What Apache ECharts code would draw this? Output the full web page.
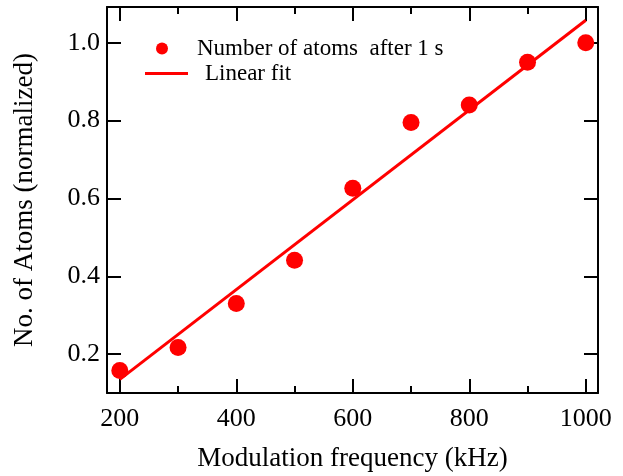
<!DOCTYPE html>
<html>
<head>
<meta charset="utf-8">
<script src="https://cdn.jsdelivr.net/npm/echarts@6/dist/echarts.min.js"></script>
<style>
  html, body { margin: 0; padding: 0; background: #fff; }
  #chart { width: 623px; height: 476px; }
</style>
</head>
<body>
<div id="chart"></div>
<script>
// modulation frequency (kHz) and normalized atom number
const freqs = [200, 300, 400, 500, 600, 700, 800, 900, 1000];
const atoms = [0.158, 0.217, 0.330, 0.441, 0.626, 0.795, 0.840, 0.950, 1.0];
// linear fit end points
const fitX = [200, 1000];
const fitY = [0.135, 1.058];

const xMajor = [200, 400, 600, 800, 1000];
const xMinor = [300, 500, 700, 900];
const yMajor = [0.2, 0.4, 0.6, 0.8, 1.0];

const FONT = '"Liberation Serif", "Times New Roman", serif';
const X_MIN = 178, X_MAX = 1021;
const Y_MIN = 0.1, Y_MAX = 1.092;

const myChart = echarts.init(document.getElementById('chart'));

function xAxisCfg(pos, ticks, len, show) {
  return {
    type: 'value',
    position: pos,
    min: X_MIN,
    max: X_MAX,
    axisLine: { show: show, lineStyle: { color: '#000', width: 2 } },
    axisTick: {
      show: true,
      inside: true,
      length: len,
      customValues: ticks,
      lineStyle: { color: '#000', width: 2 },
    },
    axisLabel: { show: false },
    splitLine: { show: false },
  };
}

const xAxes = [
  Object.assign(xAxisCfg('bottom', xMajor, 14, true), {
    name: 'Modulation frequency (kHz)',
    nameLocation: 'middle',
    nameGap: 52,
    nameTextStyle: { fontFamily: FONT, fontSize: 27, color: '#000' },
    axisLabel: {
      show: true,
      customValues: xMajor,
      margin: 13,
      fontFamily: FONT,
      fontSize: 26,
      color: '#000',
      formatter: (v) => String(v),
    },
  }),
  xAxisCfg('bottom', xMinor, 7, false),
  xAxisCfg('top', xMajor, 14, true),
  xAxisCfg('top', xMinor, 7, false),
];

function yAxisCfg(pos) {
  return {
    type: 'value',
    position: pos,
    min: Y_MIN,
    max: Y_MAX,
    axisLine: { show: true, lineStyle: { color: '#000', width: 2 } },
    axisTick: {
      show: true,
      inside: true,
      length: 14,
      customValues: yMajor,
      lineStyle: { color: '#000', width: 2 },
    },
    axisLabel: { show: false },
    splitLine: { show: false },
  };
}

const yAxes = [
  Object.assign(yAxisCfg('left'), {
    name: 'No. of Atoms (normalized)',
    nameLocation: 'middle',
    nameGap: 69,
    nameTextStyle: { fontFamily: FONT, fontSize: 27, color: '#000' },
    axisLabel: {
      show: true,
      customValues: yMajor,
      margin: 7,
      fontFamily: FONT,
      fontSize: 26,
      color: '#000',
      formatter: (v) => v.toFixed(1),
    },
  }),
  yAxisCfg('right'),
];

const legendText = { fontFamily: FONT, fontSize: 23, color: '#000' };

const option = {
  animation: false,
  backgroundColor: '#fff',
  grid: { left: 107, top: 7, right: 25, bottom: 83, outerBoundsMode: 'none' },
  legend: [
    {
      data: [{ name: 'Number of atoms  after 1 s', icon: 'circle' }],
      left: 156,
      top: 37,
      padding: 0,
      itemWidth: 12,
      itemHeight: 12,
      textStyle: Object.assign({ padding: [0, 0, 0, 24] }, legendText),
    },
    {
      data: [{ name: 'Linear fit', icon: 'rect' }],
      left: 145,
      top: 62,
      padding: 0,
      itemWidth: 43,
      itemHeight: 3,
      textStyle: Object.assign({ padding: [0, 0, 0, 12] }, legendText),
    },
  ],
  xAxis: xAxes,
  yAxis: yAxes,
  series: [
    {
      name: 'Linear fit',
      type: 'line',
      symbol: 'none',
      data: fitX.map((x, i) => [x, fitY[i]]),
      lineStyle: { color: '#ff0000', width: 3 },
      itemStyle: { color: '#ff0000' },
    },
    {
      name: 'Number of atoms  after 1 s',
      type: 'scatter',
      symbolSize: 17,
      data: freqs.map((x, i) => [x, atoms[i]]),
      itemStyle: { color: '#ff0000', opacity: 1 },
    },
  ],
};

myChart.setOption(option);
</script>
</body>
</html>
